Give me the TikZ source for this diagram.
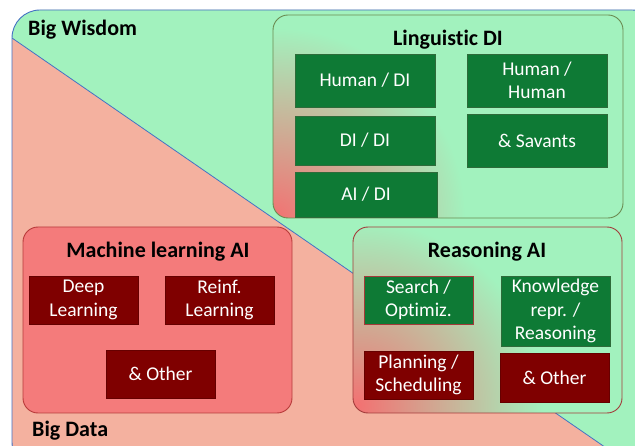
\documentclass[tikz,border=0pt]{standalone}
\usepackage{fontspec}
\setmainfont{Carlito}[Ligatures=NoCommon]
\definecolor{bggreen}{HTML}{A2F2BE}
\definecolor{bgsalmon}{HTML}{F4B19F}
\definecolor{outerblue}{HTML}{4472C4}
\definecolor{mlfill}{HTML}{F47B7B}
\definecolor{mlborder}{HTML}{B83A3A}
\definecolor{lingborder}{HTML}{6A8A50}
\definecolor{reasborder}{HTML}{A33A3A}
\definecolor{cellgreen}{HTML}{0E7A35}
\definecolor{cellgreenb}{HTML}{2E6B3A}
\definecolor{cellred}{HTML}{7F0000}
\definecolor{glowred}{HTML}{F27272}
\begin{document}
\begin{tikzpicture}[x=1pt,y=-1pt,
  container/.style={rounded corners=15pt, line width=0.9pt},
  cell/.style={minimum width=109pt, minimum height=48pt, inner sep=0pt, align=center, text=white,
    font=\fontsize{19.5}{23.5}\selectfont},
  gcell/.style={cell, fill=cellgreen, draw=cellgreenb, line width=0.5pt},
  rcell/.style={cell, fill=cellred, draw=cellred!80!black, line width=0.5pt},
  title/.style={font=\fontsize{22}{26}\selectfont\bfseries, text=black, inner sep=0pt},
]
\useasboundingbox (0,0) rectangle (635,446);
% background
\begin{scope}
  \clip (0,0) rectangle (635,446);
  \begin{scope}
    \clip[rounded corners=28pt] (12,10) rectangle (660,470);
    \fill[bgsalmon] (0,0) rectangle (700,500);
    \fill[bggreen] (12,38) -- (680,498.9) -- (680,0) -- (0,0) -- (0,38) -- cycle;
    \draw[outerblue, line width=0.8pt] (12,38) -- (680,498.9);
  \end{scope}
  \draw[outerblue, line width=0.9pt, rounded corners=28pt] (12,10) rectangle (660,470);
\end{scope}
\node[title, anchor=west] (bw) at (28,30) {Big Wisdom};
\node[title, anchor=west] (bd) at (32,431) {Big Data};

% Linguistic DI
\fill[bggreen, container] (273,15) rectangle (623,218);
\begin{scope}
  \clip[rounded corners=15pt] (273,15) rectangle (623,218);
  \shade[inner color=glowred, outer color=bggreen] (275,218) circle (190);
\end{scope}
\draw[lingborder, container] (273,15) rectangle (623,218);
\node[title] (lingt) at (448,40) {Linguistic DI};
\node[gcell, minimum width=140pt, minimum height=53pt] (hd) at (365,80.5) {Human / DI};
\node[gcell, minimum width=140pt, minimum height=53pt] (hh) at (537,80.5) {Human /\\Human};
\node[gcell, minimum width=140pt, minimum height=49pt] (dd) at (365,140.5) {DI / DI};
\node[gcell, minimum width=140pt, minimum height=53pt] (sv) at (537,140.5) {\& Savants};
\node[gcell, minimum width=142pt, minimum height=45pt] (ad) at (366,194.5) {AI / DI};

% Machine learning AI
\draw[mlborder, fill=mlfill, container] (23,227) rectangle (292,413);
\node[title] (mlt) at (158,252) {Machine learning AI};
\node[rcell] (dl) at (83.5,300) {Deep\\Learning};
\node[rcell] (rl) at (219.5,300) {Reinf.\\Learning};
\node[rcell] (mo) at (160.5,374) {\& Other};

% Reasoning AI
\fill[bggreen, container] (353,227) rectangle (622,413);
\begin{scope}
  \clip[rounded corners=15pt] (353,227) rectangle (622,413);
  \shade[inner color=glowred, outer color=bggreen] (358,405) circle (185);
\end{scope}
\draw[reasborder, container] (353,227) rectangle (622,413);
\node[title] (rt) at (487,252) {Reasoning AI};
\node[gcell, draw=reasborder, line width=0.8pt] (so) at (418.5,300) {Search /\\Optimiz.};
\node[gcell, minimum height=70pt] (kr) at (555.5,311) {Knowledge\\repr. /\\Reasoning};
\node[rcell] (ps) at (418.5,375) {Planning /\\Scheduling};
\node[rcell, minimum height=49pt] (ro) at (554.5,377.5) {\& Other};
\end{tikzpicture}
\end{document}
